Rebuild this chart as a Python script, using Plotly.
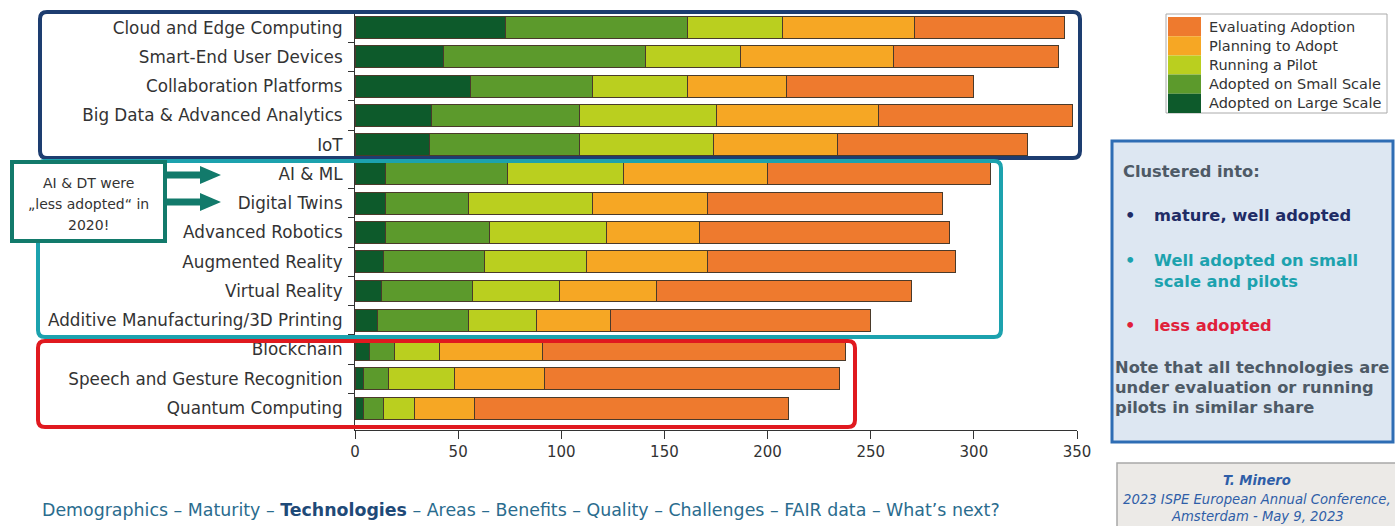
import plotly.graph_objects as go

# Technologies, listed top to bottom
technologies = [
    "Cloud and Edge Computing",
    "Smart-End User Devices",
    "Collaboration Platforms",
    "Big Data & Advanced Analytics",
    "IoT",
    "AI & ML",
    "Digital Twins",
    "Advanced Robotics",
    "Augmented Reality",
    "Virtual Reality",
    "Additive Manufacturing/3D Printing",
    "Blockchain",
    "Speech and Gesture Recognition",
    "Quantum Computing",
]

# Number of responses per maturity stage
adopted_large = [73, 43, 56, 37, 36, 15, 15, 15, 14, 13, 11, 7, 4, 4]
adopted_small = [88, 98, 59, 72, 73, 59, 40, 50, 49, 44, 44, 12, 12, 10]
running_pilot = [46, 46, 46, 66, 65, 56, 60, 57, 49, 42, 33, 22, 32, 15]
planning_adopt = [64, 74, 48, 79, 60, 70, 56, 45, 59, 47, 36, 50, 44, 29]
evaluating_adopt = [73, 80, 91, 94, 92, 108, 114, 121, 120, 124, 126, 147, 143, 152]

stage_names = [
    "Adopted on Large Scale",
    "Adopted on Small Scale",
    "Running a Pilot",
    "Planning to Adopt",
    "Evaluating Adoption",
]
stage_values = [adopted_large, adopted_small, running_pilot, planning_adopt, evaluating_adopt]
stage_colors = ["#0D5A2B", "#5C9A2C", "#BACF1F", "#F6A724", "#EE7A2E"]

x_ticks = [0, 50, 100, 150, 200, 250, 300, 350]

FONT = "DejaVu Sans, Liberation Sans, Arial, sans-serif"
W, H = 1395, 526
PL, PR, PT, PB = 355, 1077, 13, 430  # plot area in pixels


def px(x):
    return (x - PL) / (PR - PL)


def py(y):
    return (PB - y) / (PB - PT)


def round_rect(x0, y0, x1, y1, r):
    pts = [
        ("M", x0 + r, y0), ("L", x1 - r, y0), ("Q", x1, y0, x1, y0 + r),
        ("L", x1, y1 - r), ("Q", x1, y1, x1 - r, y1),
        ("L", x0 + r, y1), ("Q", x0, y1, x0, y1 - r),
        ("L", x0, y0 + r), ("Q", x0, y0, x0 + r, y0),
    ]
    out = []
    for p in pts:
        cmd = p[0]
        coords = p[1:]
        s = []
        for i in range(0, len(coords), 2):
            s.append(f"{px(coords[i]):.5f},{py(coords[i + 1]):.5f}")
        out.append(cmd + " " + " ".join(s))
    return " ".join(out) + " Z"


def poly(points):
    return "M " + " L ".join(f"{px(a):.5f},{py(b):.5f}" for a, b in points) + " Z"


fig = go.Figure()
for name, vals, col in zip(stage_names, stage_values, stage_colors):
    fig.add_trace(go.Bar(
        y=technologies, x=vals, name=name, orientation="h",
        marker=dict(color=col, line=dict(color="#4A3A2A", width=1)),
        showlegend=False, hoverinfo="x+y+name",
    ))

shapes = []
annotations = []

# cluster frames
shapes.append(dict(type="path", xref="paper", yref="paper", path=round_rect(40, 12, 1080, 158, 7),
                   line=dict(color="#1D3D70", width=4), layer="above"))
shapes.append(dict(type="path", xref="paper", yref="paper", path=round_rect(38, 161, 1001, 337, 7),
                   line=dict(color="#1CA2AE", width=4), layer="above"))
shapes.append(dict(type="path", xref="paper", yref="paper", path=round_rect(38, 341, 855, 427, 7),
                   line=dict(color="#E0191F", width=4), layer="above"))

# callout box with arrows
shapes.append(dict(type="rect", xref="paper", yref="paper", x0=px(12), x1=px(165), y0=py(162), y1=py(241),
                   fillcolor="white", line=dict(color="#127A6B", width=4), layer="above"))
for ay in (175, 202):
    shapes.append(dict(type="path", xref="paper", yref="paper",
                       path=poly([(166, ay - 3.5), (200, ay - 3.5), (200, ay - 9), (221, ay),
                                  (200, ay + 9), (200, ay + 3.5), (166, ay + 3.5)]),
                       fillcolor="#127A6B", line=dict(width=0), layer="above"))
for txt, yy in (("AI & DT were", 183), ("\u201eless adopted\u201c in", 204), ("2020!", 225)):
    annotations.append(dict(xref="paper", yref="paper", x=px(88), y=py(yy), text=txt, showarrow=False,
                            xanchor="center", yanchor="middle", font=dict(family=FONT, size=14, color="#333333")))

# legend box
shapes.append(dict(type="rect", xref="paper", yref="paper", x0=px(1166), x1=px(1387), y0=py(14), y1=py(113),
                   fillcolor="white", line=dict(color="#AAAAAA", width=1)))
row_top = 17
row_h = 19.2
for i, (name, col) in enumerate(zip(stage_names[::-1], stage_colors[::-1])):
    y0 = row_top + i * row_h
    shapes.append(dict(type="rect", xref="paper", yref="paper", x0=px(1168), x1=px(1201),
                       y0=py(y0), y1=py(y0 + row_h), fillcolor=col, line=dict(width=0)))
    annotations.append(dict(xref="paper", yref="paper", x=px(1207), y=py(y0 + row_h / 2), text=name,
                            showarrow=False, xanchor="left", yanchor="middle",
                            font=dict(family=FONT, size=14.5, color="#333333")))

# summary box on the right
shapes.append(dict(type="rect", xref="paper", yref="paper", x0=px(1112), x1=px(1393), y0=py(141), y1=py(442),
                   fillcolor="#DDE7F2", line=dict(color="#2E6DB4", width=3)))
GREY = "#4E5A66"
notes = [
    ("Clustered into:", 1121, 171, GREY),
    ("\u2022", 1123, 215, "#1F2C66"),
    ("mature, well adopted", 1152, 215, "#1F2C66"),
    ("\u2022", 1123, 260, "#1CA2AE"),
    ("Well adopted on small", 1152, 260, "#1CA2AE"),
    ("scale and pilots", 1152, 281, "#1CA2AE"),
    ("\u2022", 1123, 325, "#E0203A"),
    ("less adopted", 1152, 325, "#E0203A"),
    ("Note that all technologies are", 1113, 367, GREY),
    ("under evaluation or running", 1113, 387, GREY),
    ("pilots in similar share", 1113, 407, GREY),
]
for txt, xx, yy, col in notes:
    annotations.append(dict(xref="paper", yref="paper", x=px(xx), y=py(yy), text=f"<b>{txt}</b>",
                            showarrow=False, xanchor="left", yanchor="middle",
                            font=dict(family=FONT, size=16.3, color=col)))

# attribution box
shapes.append(dict(type="rect", xref="paper", yref="paper", x0=px(1117), x1=px(1396), y0=py(463), y1=py(528),
                   fillcolor="#ECEAE7", line=dict(color="#A8A8A8", width=1.5)))
for txt, yy in (("<b>T. Minero</b>", 481), ("2023 ISPE European Annual Conference,", 499),
                ("Amsterdam - May 9, 2023", 516)):
    annotations.append(dict(xref="paper", yref="paper", x=px(1257), y=py(yy), text=f"<i>{txt}</i>",
                            showarrow=False, xanchor="center", yanchor="middle",
                            font=dict(family=FONT, size=13.2, color="#2F5EA8")))

# navigation line
nav = ("Demographics \u2013 Maturity \u2013 <b><span style='color:#1F4A78'>Technologies</span></b> \u2013 "
       "Areas \u2013 Benefits \u2013 Quality \u2013 Challenges \u2013 FAIR data \u2013 What\u2019s next?")
annotations.append(dict(xref="paper", yref="paper", x=px(40), y=py(510), text=nav, showarrow=False,
                        xanchor="left", yanchor="middle", font=dict(family=FONT, size=17.4, color="#2A6C8E")))

fig.update_layout(
    width=W, height=H,
    margin=dict(l=PL, r=W - PR, t=PT, b=H - PB, pad=0),
    barmode="stack", bargap=0.25,
    plot_bgcolor="white", paper_bgcolor="white",
    font=dict(family=FONT, color="#333333"),
    xaxis=dict(range=[0, 350], tickvals=x_ticks, ticks="outside", ticklen=8, tickcolor="#333333",
               showline=True, linecolor="#333333", linewidth=1, showgrid=False, zeroline=False,
               tickfont=dict(size=15, color="#333333")),
    yaxis=dict(type="category", categoryorder="array", categoryarray=technologies,
               range=[13.75, -0.5], ticks="outside", tickson="boundaries", ticklen=6, tickcolor="#333333",
               showline=True, linecolor="#333333", linewidth=1, showgrid=False, ticklabelstandoff=8,
               tickfont=dict(size=16.8, color="#333333")),
    shapes=shapes, annotations=annotations,
    showlegend=False,
)

fig.write_html("out.html")
